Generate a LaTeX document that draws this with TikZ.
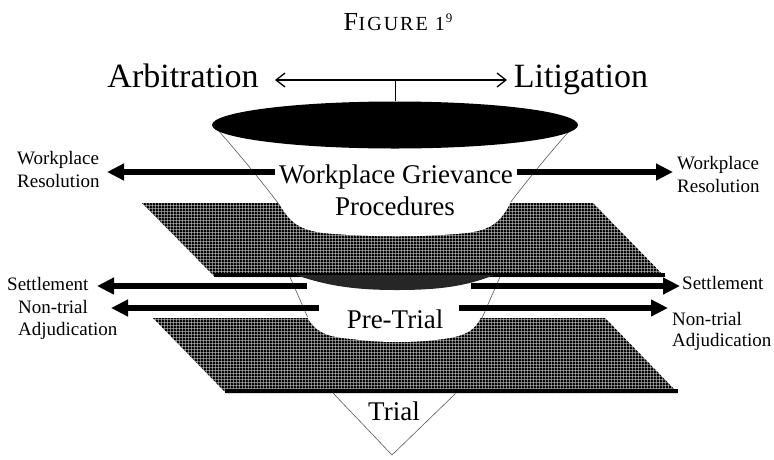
\documentclass[tikz,border=0pt]{standalone}
\usepackage{fontspec}
\setmainfont{Liberation Serif}
\usetikzlibrary{arrows.meta, shapes.geometric, patterns.meta}

\tikzdeclarepattern{
  name=platemesh,
  type=uncolored,
  bounding box={(0pt,0pt) and (3pt,3pt)},
  tile size={(3pt,3pt)},
  code={
    \fill (0pt,0pt) rectangle (3pt,2.1pt);
    \fill (0pt,0pt) rectangle (2.1pt,3pt);
  }
}

\begin{document}
\begin{tikzpicture}[x=1pt, y=-1pt,
    funnelline/.style={draw=black!65, line width=0.6pt},
    plate/.style={fill=black!35, postaction={pattern=platemesh, pattern color=black}},
    flowarrow/.style={line width=6.5pt, -{Triangle[length=17pt,width=16pt]}},
    sidetext/.style={font=\fontsize{19}{23}\selectfont, align=left, inner sep=0pt},
    stagetext/.style={font=\fontsize{27}{32}\selectfont, inner sep=1pt, anchor=base},
    choicetext/.style={font=\fontsize{34}{40}\selectfont, inner sep=0pt, anchor=base}]
    \useasboundingbox (0,0) rectangle (774,459);

    % Title
    \node[anchor=base, font=\fontsize{26}{30}\selectfont] (title) at (398,30)
        {F\kern0.5pt{\fontsize{20}{24}\selectfont\addfontfeature{LetterSpace=10}IGURE 1}\kern1pt\raisebox{8pt}{\fontsize{13}{15}\selectfont 9}};

    % Funnel outline
    \draw[funnelline] (217,129) .. controls (240,155) and (262,182) .. (278,203) -- (290,277) -- (308,318) -- (333,393) -- (392,455)
        -- (455,394) -- (482,318) -- (500,277) -- (510,203) .. controls (526,182) and (548,155) .. (571,129);

    % Cup
    \node[ellipse, fill=black, minimum width=366pt, minimum height=47pt, inner sep=0pt] (cup) at (395,125) {};

    % Arbitration or litigation
    \node[choicetext] (arb) at (183,87) {Arbitration};
    \node[choicetext] (lit) at (581,87) {Litigation};
    \coordinate (arbend) at (275,80);
    \coordinate (litend) at (507,80);
    \draw[line width=1.3pt, {Straight Barb[length=9pt,width=14pt]}-{Straight Barb[length=9pt,width=14pt]}] (arbend) -- (litend);
    \draw[line width=1pt] (cup.north) -- (cup.north |- arbend);

    % Upper plate
    \path[plate] (142,203) -- (593,203) -- (665,277) -- (215,277) -- cycle;
    \fill[white] (278,202) .. controls (290,222) and (298,232) .. (335,234)
        .. controls (375,237) and (420,237) .. (455,234)
        .. controls (492,232) and (500,222) .. (511,202) -- cycle;
    \draw[line width=3.5pt] (214,275) -- (665,275);
    \fill[black!85] (296,275) .. controls (330,287) and (360,290) .. (397,290)
        .. controls (435,290) and (465,287) .. (494,275) -- cycle;

    % Lower plate
    \path[plate] (153,318) -- (605,318) -- (678,393) -- (226,393) -- cycle;
    \fill[white] (307,317) .. controls (315,331) and (325,337) .. (352,339)
        .. controls (380,343) and (415,343) .. (443,339)
        .. controls (466,336) and (475,330) .. (481,317) -- cycle;
    \draw[line width=4pt] (225,391) -- (678,391);

    % Stages
    \node[stagetext] (wgtop) at (396,183) {Workplace Grievance};
    \node[stagetext] (wgbot) at (395,215) {Procedures};
    \node[stagetext] (pretrial) at (395,328) {Pre-Trial};
    \node[stagetext] (trial) at (394,420) {Trial};

    % Exits
    \node[sidetext, anchor=north west] (wrleft) at (17,151) {Workplace\\Resolution};
    \node[sidetext, anchor=north west] (wrright) at (677,156) {Workplace\\Resolution};
    \node[sidetext, anchor=base west] (stleft) at (7,290) {Settlement};
    \node[sidetext, anchor=base west] (stright) at (682,289) {Settlement};
    \node[sidetext, anchor=north west, font=\fontsize{19}{22}\selectfont] (ntleft) at (18,300) {Non-trial\\Adjudication};
    \node[sidetext, anchor=north west, font=\fontsize{19}{21}\selectfont] (ntright) at (672,312) {Non-trial\\Adjudication};

    % Arrows
    \coordinate (wrLs) at (275,172);
    \coordinate (wrLt) at (107,172);
    \coordinate (wrRs) at (517,172);
    \coordinate (wrRt) at (673,172);
    \coordinate (stLs) at (307,286);
    \coordinate (stLt) at (97,286);
    \coordinate (stRs) at (471,286);
    \coordinate (stRt) at (680,286);
    \coordinate (ntLs) at (319,308);
    \coordinate (ntLt) at (111,308);
    \coordinate (ntRs) at (459,308);
    \coordinate (ntRt) at (668,308);
    \foreach \s/\t in {wrLs/wrLt, wrRs/wrRt, stLs/stLt, stRs/stRt, ntLs/ntLt, ntRs/ntRt}
        \draw[flowarrow] (\s) -- (\t);

\end{tikzpicture}
\end{document}
